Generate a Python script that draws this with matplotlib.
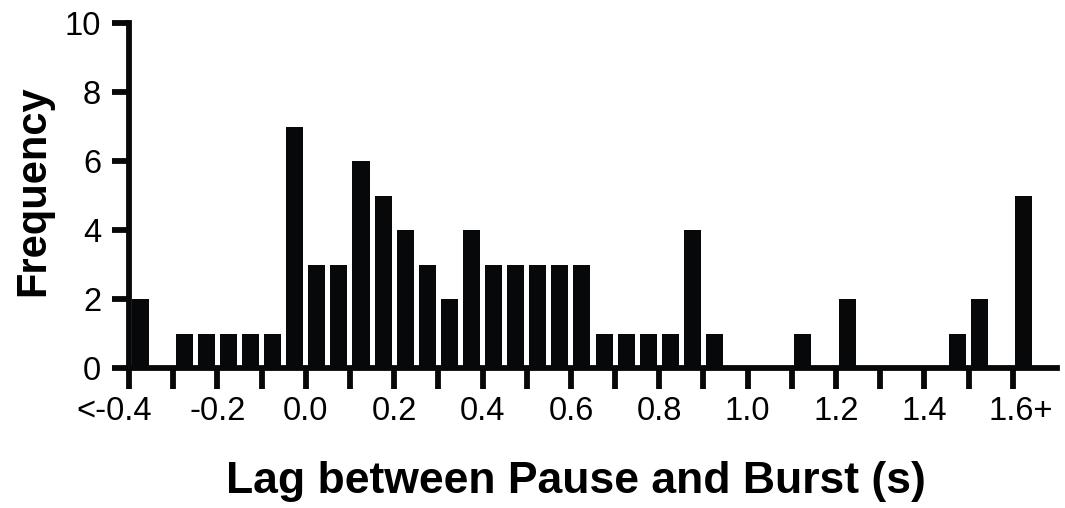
import numpy as np
import matplotlib
matplotlib.use("Agg")
import matplotlib.pyplot as plt
import matplotlib.transforms as mtransforms

plt.rcParams['font.family'] = ['Liberation Sans', 'DejaVu Sans']

# histogram bins: 0.05 s wide, first bin is "<-0.4", last is "1.6+"
bin_start = -0.4
bin_width = 0.05
counts = [2, 0, 1, 1, 1, 1, 1, 7, 3, 3,
          6, 5, 4, 3, 2, 4, 3, 3, 3, 3,
          3, 1, 1, 1, 1, 4, 1, 0, 0, 0,
          1, 0, 2, 0, 0, 0, 0, 1, 2, 0,
          5]
tick_values = [-0.4, -0.3, -0.2, -0.1, 0.0, 0.1, 0.2, 0.3, 0.4, 0.5, 0.6,
               0.7, 0.8, 0.9, 1.0, 1.1, 1.2, 1.3, 1.4, 1.5, 1.6]
tick_labels = ['<-0.4', '', '-0.2', '', '0.0', '', '0.2', '', '0.4', '', '0.6',
               '', '0.8', '', '1.0', '', '1.2', '', '1.4', '', '1.6+']

centers = bin_start + bin_width * (np.arange(len(counts)) + 0.5)

W, H = 1065, 508
fig = plt.figure(figsize=(W / 100, H / 100), dpi=100)
ax = fig.add_axes([129 / W, 1 - 368 / H, (1057 - 129) / W, (368 - 23) / H])

ax.bar(centers, counts, width=0.0385, color='#070809', linewidth=0)

ax.set_xlim(-0.4, 1.7)
ax.set_ylim(0, 10)
ax.set_yticks([0, 2, 4, 6, 8, 10])
ax.set_xticks(tick_values)
ax.set_xticklabels(tick_labels)

for side in ['top', 'right']:
    ax.spines[side].set_visible(False)
for side in ['left', 'bottom']:
    ax.spines[side].set_linewidth(4.2)
    ax.spines[side].set_color('#070809')

ax.tick_params(axis='x', direction='out', length=15, width=4.2, labelsize=23.5, pad=5, color='#070809')
ax.tick_params(axis='y', direction='out', length=12, width=4.2, labelsize=23.5, pad=8, color='#070809')

# shift the end labels so the numbers sit on their ticks
labels = ax.get_xticklabels()
labels[0].set_transform(labels[0].get_transform() + mtransforms.ScaledTranslation(-0.15, 0, fig.dpi_scale_trans))
labels[-1].set_transform(labels[-1].get_transform() + mtransforms.ScaledTranslation(0.08, 0, fig.dpi_scale_trans))

ax.set_ylabel('Frequency', fontsize=30, fontweight='bold')
ax.yaxis.set_label_coords(-0.0815, 0.513)
ax.set_xlabel('Lag between Pause and Burst (s)', fontsize=32, fontweight='bold')
ax.xaxis.set_label_coords(0.4811, -0.27)

fig.savefig('out.png', dpi=100)
